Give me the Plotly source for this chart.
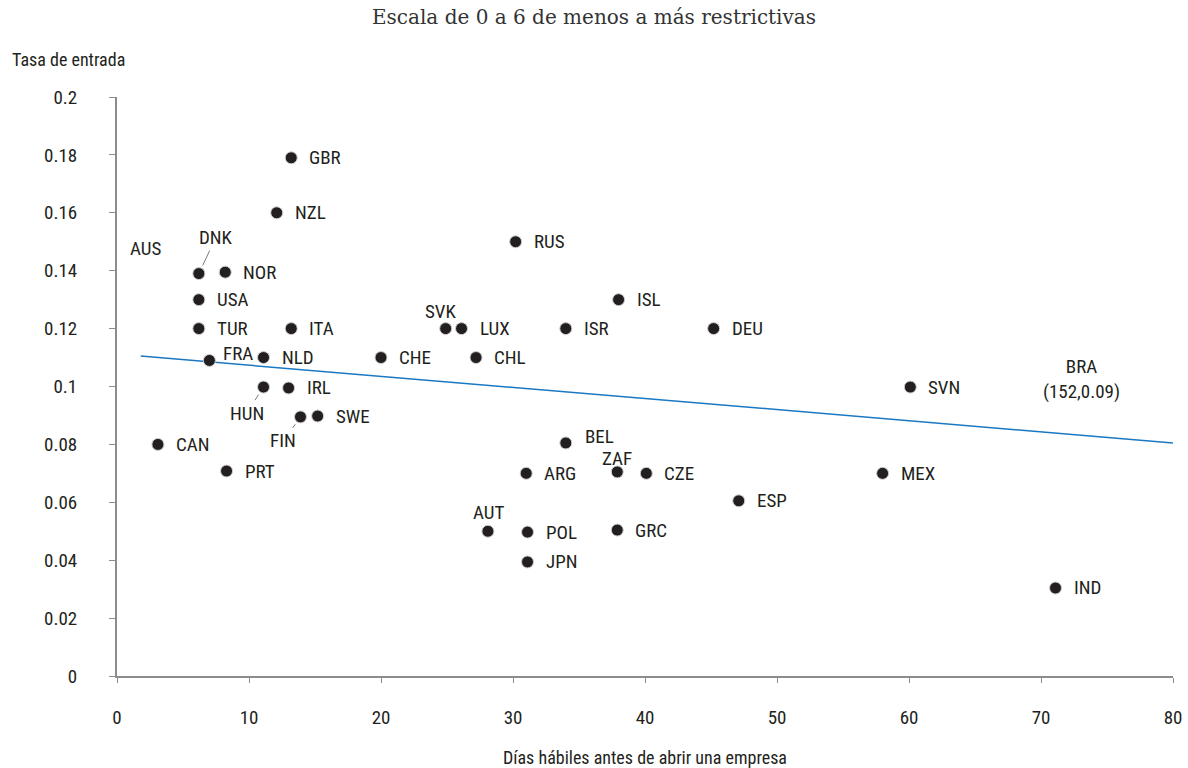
import plotly.graph_objects as go

# ---- data ----
countries = ["GBR", "NZL", "AUS", "DNK", "NOR", "USA", "TUR", "ITA", "FRA", "NLD",
             "HUN", "IRL", "FIN", "SWE", "CAN", "PRT", "CHE", "RUS", "SVK", "LUX",
             "CHL", "ISR", "ISL", "DEU", "BEL", "ARG", "ZAF", "CZE", "ESP", "AUT",
             "POL", "GRC", "JPN", "SVN", "MEX", "IND"]
dias = [13.2, 12.1, 6.2, 6.2, 8.2, 6.2, 6.2, 13.2, 7.0, 11.1,
        11.1, 13.0, 13.9, 15.2, 3.1, 8.3, 20.0, 30.2, 24.9, 26.1,
        27.2, 34.0, 38.0, 45.2, 34.0, 31.0, 37.9, 40.1, 47.1, 28.1,
        31.1, 37.9, 31.1, 60.1, 58.0, 71.1]
tasa = [0.179, 0.160, 0.139, 0.139, 0.1395, 0.130, 0.120, 0.120, 0.109, 0.110,
        0.0998, 0.0995, 0.0895, 0.0898, 0.080, 0.0708, 0.110, 0.150, 0.120, 0.120,
        0.110, 0.120, 0.130, 0.120, 0.0805, 0.070, 0.0705, 0.070, 0.0605, 0.050,
        0.0497, 0.0504, 0.0394, 0.0998, 0.070, 0.0304]

trend_x = [1.8, 80]
trend_y = [0.1105, 0.0805]

x_ticks = [0, 10, 20, 30, 40, 50, 60, 70, 80]
y_ticks = [0, 0.02, 0.04, 0.06, 0.08, 0.1, 0.12, 0.14, 0.16, 0.18, 0.2]
y_tick_labels = ["0", "0.02", "0.04", "0.06", "0.08", "0.1", "0.12", "0.14", "0.16", "0.18", "0.2"]

outlier_label = "BRA<br>(152,0.09)"
outlier_pos = (73.1, 0.1025)

title = "Escala de 0 a 6 de menos a más restrictivas"
x_title = "Días hábiles antes de abrir una empresa"
y_title = "Tasa de entrada"

# label placement (pixel offsets): (dx, dy, leader_line)
special = {
    "AUS": (-53, -25, False),
    "DNK": (17, -36, True),
    "HUN": (-17, 26, True),
    "FIN": (-17, 24, True),
    "SVK": (-5, -17, False),
    "AUT": (1, -19, False),
    "ZAF": (0, -13, False),
}

FAMILY = "Liberation Sans Narrow, Roboto Condensed, Arial Narrow, Roboto, sans-serif"
INK = "#231f20"
LABEL_FONT = dict(family=FAMILY, size=19, color=INK)
AXIS_COLOR = "#8c8c8c"

W, H = 1188, 768
ML, MR, MT, MB = 117, 15, 97, 92

fig = go.Figure()

fig.add_trace(go.Scatter(
    x=trend_x, y=trend_y, mode="lines",
    line=dict(color="#1a78c2", width=1.5),
    hoverinfo="skip", showlegend=False))

pts = [(c, x, y) for c, x, y in zip(countries, dias, tasa) if c != "AUS"]
fig.add_trace(go.Scatter(
    x=[p[1] for p in pts], y=[p[2] for p in pts], mode="markers",
    marker=dict(symbol="circle", size=12, color=INK,
                line=dict(width=1, color="#cfcfcf")),
    text=[p[0] for p in pts], showlegend=False))

annotations = []
for c, x, y in zip(countries, dias, tasa):
    if c in special:
        dx, dy, line = special[c]
        if line:
            annotations.append(dict(
                x=x, y=y, xref="x", yref="y", text=c, showarrow=True,
                ax=dx, ay=dy, arrowhead=0, arrowwidth=1, arrowcolor="#7a7a7a",
                standoff=9, font=LABEL_FONT))
        else:
            annotations.append(dict(
                x=x, y=y, xref="x", yref="y", text=c, showarrow=False,
                xshift=dx, yshift=-dy, xanchor="center", yanchor="middle",
                font=LABEL_FONT))
    else:
        xs, ys = 16, 0
        if c == "FRA":
            xs, ys = 12, 7
        if c == "BEL":
            xs, ys = 17, 6
        annotations.append(dict(
            x=x, y=y, xref="x", yref="y", text=c, showarrow=False,
            xanchor="left", yanchor="middle", xshift=xs, yshift=ys,
            font=LABEL_FONT))

annotations.append(dict(
    x=outlier_pos[0], y=outlier_pos[1], xref="x", yref="y", text=outlier_label,
    showarrow=False, xanchor="center", yanchor="middle", font=LABEL_FONT))

annotations.append(dict(
    xref="paper", yref="paper",
    x=(10 - ML) / (W - ML - MR), y=(H - MB - 60) / (H - MT - MB),
    text=y_title, showarrow=False, xanchor="left", yanchor="middle",
    font=dict(family=FAMILY, size=18, color=INK)))

fig.update_layout(
    width=W, height=H,
    margin=dict(l=ML, r=MR, t=MT, b=MB, autoexpand=False),
    paper_bgcolor="white", plot_bgcolor="white",
    title=dict(text=title, x=0.5, xanchor="center", y=1 - 17 / H, yanchor="middle",
               font=dict(family="DejaVu Serif, Liberation Serif, serif", size=20, color="#333333")),
    annotations=annotations,
    showlegend=False,
)

fig.update_xaxes(
    range=[0, 80], tickvals=x_ticks, showgrid=False, zeroline=False,
    showline=True, linecolor=AXIS_COLOR, linewidth=2,
    ticks="outside", ticklen=5, tickcolor=AXIS_COLOR, tickwidth=1,
    ticklabelstandoff=18, automargin=False,
    tickfont=dict(family=FAMILY, size=19, color=INK),
    title=dict(text=x_title, standoff=28,
               font=dict(family=FAMILY, size=18, color=INK)))
fig.update_yaxes(
    range=[0, 0.2], tickvals=y_ticks, ticktext=y_tick_labels, showgrid=False, zeroline=False,
    showline=True, linecolor=AXIS_COLOR, linewidth=2,
    ticks="outside", ticklen=6, tickcolor=AXIS_COLOR, tickwidth=1,
    ticklabelstandoff=28, automargin=False,
    tickfont=dict(family=FAMILY, size=19, color=INK))

fig.write_html("out.html", config={"displayModeBar": False},
               post_script="document.body.style.margin='0';")
